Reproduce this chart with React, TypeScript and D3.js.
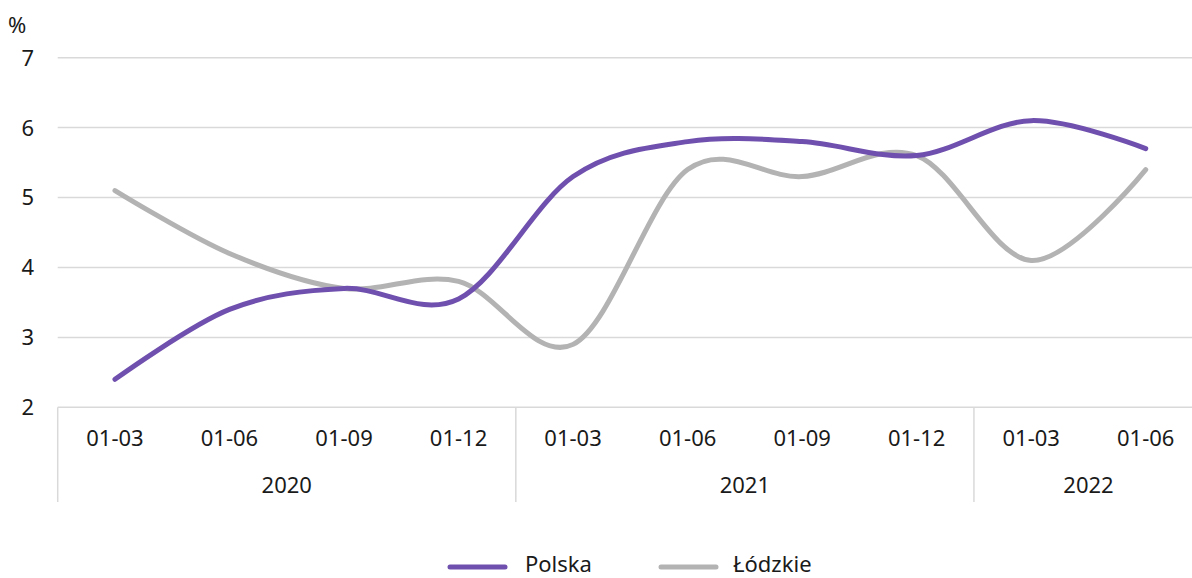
import React from "react";
import * as d3 from "d3";

const months = ["01-03", "01-06", "01-09", "01-12", "01-03", "01-06", "01-09", "01-12", "01-03", "01-06"];
const yearLabels = ["2020", "2021", "2022"];
const yearSpans = [4, 4, 2];
const polska = [2.4, 3.4, 3.7, 3.55, 5.3, 5.8, 5.8, 5.6, 6.1, 5.7];
const lodzkie = [5.1, 4.2, 3.7, 3.8, 2.9, 5.4, 5.3, 5.6, 4.1, 5.4];
const yTicks = [2, 3, 4, 5, 6, 7];

const W = 1192;
const H = 578;
const FONT = "'Noto Sans', 'Open Sans', sans-serif";
const PURPLE = "#7050ae";
const GREY = "#b3b3b3";
const GRID = "#d9d9d9";

export default function App() {
  const left = 57.7;
  const right = 1203;
  const x = d3.scaleBand<number>().domain(months.map((_, i) => i)).range([left, right]).padding(0);
  const y = d3.scaleLinear().domain([2, 7]).range([407.3, 57.7]);
  const cx = (i: number) => (x(i) as number) + x.bandwidth() / 2;
  const line = d3
    .line<number>()
    .x((_, i) => cx(i))
    .y((d) => y(d))
    .curve(d3.curveCardinal.tension(0));

  const bottom = y(2);
  const sepBottom = 502;
  let acc = 0;
  const yearGroups = yearLabels.map((lab, k) => {
    const start = acc;
    acc += yearSpans[k];
    const x0 = x(start) as number;
    const x1 = start + yearSpans[k] >= months.length ? right : (x(start + yearSpans[k]) as number);
    return { lab, x0, x1 };
  });

  return (
    <svg width={W} height={H} style={{ position: "absolute", left: 0, top: 0, background: "#fff" }} fontFamily={FONT}>
      <rect x={0} y={0} width={W} height={H} fill="#fff" />
      {yTicks.map((t) => (
        <g key={t}>
          <line x1={left} x2={W} y1={y(t)} y2={y(t)} stroke={GRID} strokeWidth={1.5} />
          <text x={34} y={y(t)} dy="0.36em" textAnchor="end" fontSize={22} fill="#1a1a1a">
            {t}
          </text>
        </g>
      ))}
      <text x={8} y={33} fontSize={22} fill="#1a1a1a">%</text>
      {[left, ...yearGroups.map((g) => g.x1)].map((sx, i) => (
        <line key={i} x1={sx} x2={sx} y1={bottom} y2={sepBottom} stroke={GRID} strokeWidth={1.5} />
      ))}
      {months.map((m, i) => (
        <text key={i} x={cx(i)} y={446} textAnchor="middle" fontSize={22} fill="#1a1a1a">
          {m}
        </text>
      ))}
      {yearGroups.map((g) => (
        <text key={g.lab} x={(g.x0 + g.x1) / 2} y={493} textAnchor="middle" fontSize={22} fill="#1a1a1a">
          {g.lab}
        </text>
      ))}
      <path d={line(lodzkie) || ""} fill="none" stroke={GREY} strokeWidth={5} strokeLinecap="round" />
      <path d={line(polska) || ""} fill="none" stroke={PURPLE} strokeWidth={5} strokeLinecap="round" />
      <line x1={450} x2={505} y1={567} y2={567} stroke={PURPLE} strokeWidth={5} strokeLinecap="round" />
      <text x={525} y={572} fontSize={22} fill="#1a1a1a">Polska</text>
      <line x1={661} x2={716} y1={567} y2={567} stroke={GREY} strokeWidth={5} strokeLinecap="round" />
      <text x={733} y={572} fontSize={22} fill="#1a1a1a">Łódzkie</text>
    </svg>
  );
}
